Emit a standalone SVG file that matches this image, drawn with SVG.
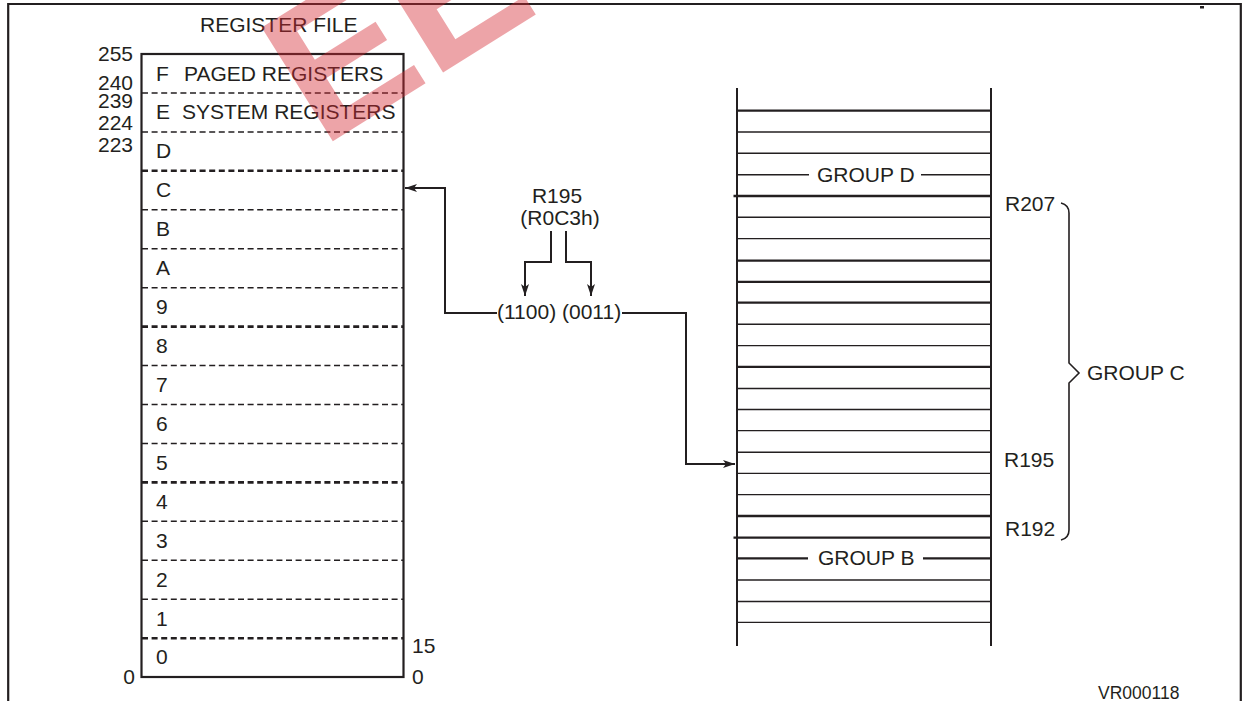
<svg xmlns="http://www.w3.org/2000/svg" width="1243" height="701" viewBox="0 0 1243 701">
<defs>
<style>
text{font-family:"Liberation Sans",Arial,sans-serif;font-size:21px;fill:#231f20}
.ln{stroke:#231f20;fill:none}
.frame{stroke:#231f20;stroke-width:2.2;fill:none}
.dash{stroke:#231f20;stroke-width:1.5;stroke-dasharray:6 3.6;fill:none}
.dashb{stroke:#231f20;stroke-width:2.6;stroke-dasharray:6 3.6;fill:none}
.reg{stroke:#231f20;stroke-width:1.4}
.regb{stroke:#231f20;stroke-width:2.3}
.con{stroke:#231f20;stroke-width:2;fill:none}
.wm{font-family:"Liberation Sans",Arial,sans-serif;font-weight:bold;font-size:195px;fill:#d62832;opacity:0.42}
</style>
<marker id="ah" viewBox="0 0 12 8" refX="12" refY="4" markerWidth="12" markerHeight="8" markerUnits="userSpaceOnUse" orient="auto">
<path d="M0,0 L12,4 L0,8 L3,4 z" fill="#231f20"/>
</marker>
</defs>
<rect width="1243" height="701" fill="#ffffff"/>

<g id="frame">
<path class="frame" d="M8.2,701 V4 H1240.8 V701"/>
<rect x="1200" y="6" width="4" height="2.5" fill="#231f20"/>
</g>

<g id="register-file">
<text x="200" y="32">REGISTER FILE</text>
<rect x="141.5" y="54" width="262" height="623" class="ln" stroke-width="2.2"/>
<line class="dash" x1="142" y1="92.9" x2="403" y2="92.9"/>
<line class="dash" x1="142" y1="131.9" x2="403" y2="131.9"/>
<line class="dashb" x1="142" y1="170.8" x2="403" y2="170.8"/>
<line class="dash" x1="142" y1="209.8" x2="403" y2="209.8"/>
<line class="dash" x1="142" y1="248.7" x2="403" y2="248.7"/>
<line class="dash" x1="142" y1="287.7" x2="403" y2="287.7"/>
<line class="dashb" x1="142" y1="326.6" x2="403" y2="326.6"/>
<line class="dash" x1="142" y1="365.6" x2="403" y2="365.6"/>
<line class="dash" x1="142" y1="404.5" x2="403" y2="404.5"/>
<line class="dash" x1="142" y1="443.4" x2="403" y2="443.4"/>
<line class="dashb" x1="142" y1="482.4" x2="403" y2="482.4"/>
<line class="dash" x1="142" y1="521.3" x2="403" y2="521.3"/>
<line class="dash" x1="142" y1="560.3" x2="403" y2="560.3"/>
<line class="dash" x1="142" y1="599.2" x2="403" y2="599.2"/>
<line class="dashb" x1="142" y1="638.2" x2="403" y2="638.2"/>
<text x="156" y="80.5">F</text>
<text x="184" y="80.5">PAGED REGISTERS</text>
<text x="156" y="119">E</text>
<text x="182" y="119">SYSTEM REGISTERS</text>
<text x="156" y="158">D</text>
<text x="156" y="197">C</text>
<text x="156" y="236">B</text>
<text x="156" y="275">A</text>
<text x="156" y="314">9</text>
<text x="156" y="353">8</text>
<text x="156" y="391.5">7</text>
<text x="156" y="430.5">6</text>
<text x="156" y="469.5">5</text>
<text x="156" y="508.5">4</text>
<text x="156" y="547.5">3</text>
<text x="156" y="586.5">2</text>
<text x="156" y="625.5">1</text>
<text x="156" y="664">0</text>
<text x="133" y="61" text-anchor="end">255</text>
<text x="133" y="89.5" text-anchor="end">240</text>
<text x="133" y="108" text-anchor="end">239</text>
<text x="133" y="129.5" text-anchor="end">224</text>
<text x="133" y="151.5" text-anchor="end">223</text>
<text x="135" y="684" text-anchor="end">0</text>
<text x="412" y="653">15</text>
<text x="412" y="684">0</text>
</g>

<g id="address">
<text x="557" y="203" text-anchor="middle">R195</text>
<text x="560" y="225" text-anchor="middle">(R0C3h)</text>
<text x="497" y="319">(1100) (0011)</text>
</g>

<g id="register-group">
<line class="ln" stroke-width="2" x1="737" y1="88" x2="737" y2="646"/>
<line class="ln" stroke-width="2" x1="991" y1="88" x2="991" y2="646"/>
<line class="regb" x1="737" y1="110.7" x2="991" y2="110.7"/>
<line class="reg" x1="737" y1="132" x2="991" y2="132"/>
<line class="reg" x1="737" y1="153.3" x2="991" y2="153.3"/>
<line class="reg" x1="737" y1="174.7" x2="809" y2="174.7"/>
<line class="reg" x1="921" y1="174.7" x2="991" y2="174.7"/>
<text x="817" y="181.7">GROUP D</text>
<line class="regb" x1="733.5" y1="196" x2="991" y2="196"/>
<line class="reg" x1="737" y1="217.3" x2="991" y2="217.3"/>
<line class="reg" x1="737" y1="238.6" x2="991" y2="238.6"/>
<line class="regb" x1="737" y1="260.7" x2="991" y2="260.7"/>
<line class="regb" x1="737" y1="281.8" x2="991" y2="281.8"/>
<line class="regb" x1="737" y1="302.7" x2="991" y2="302.7"/>
<line class="reg" x1="737" y1="324.3" x2="991" y2="324.3"/>
<line class="reg" x1="737" y1="345.6" x2="991" y2="345.6"/>
<line class="regb" x1="737" y1="366.8" x2="991" y2="366.8"/>
<line class="reg" x1="737" y1="388.5" x2="991" y2="388.5"/>
<line class="reg" x1="737" y1="409.5" x2="991" y2="409.5"/>
<line class="reg" x1="737" y1="430.6" x2="991" y2="430.6"/>
<line class="reg" x1="737" y1="452.2" x2="991" y2="452.2"/>
<line class="reg" x1="737" y1="473.4" x2="991" y2="473.4"/>
<line class="reg" x1="737" y1="494.6" x2="991" y2="494.6"/>
<line class="regb" x1="737" y1="516" x2="991" y2="516"/>
<line class="regb" x1="733.5" y1="537.7" x2="991" y2="537.7"/>
<line class="regb" x1="737" y1="558.3" x2="808" y2="558.3"/>
<line class="regb" x1="923" y1="558.3" x2="991" y2="558.3"/>
<text x="818" y="565.3">GROUP B</text>
<line class="reg" x1="737" y1="580" x2="991" y2="580"/>
<line class="reg" x1="737" y1="601.5" x2="991" y2="601.5"/>
<line class="reg" x1="737" y1="622.4" x2="991" y2="622.4"/>
</g>

<g id="group-c">
<path class="ln" stroke-width="1.6" d="M1061,203 Q1069,205 1069,213 V363 L1079,373 L1069,383 V530 Q1069,538 1061,540"/>
<text x="1005" y="211">R207</text>
<text x="1004" y="467">R195</text>
<text x="1005" y="536">R192</text>
<text x="1087" y="380">GROUP C</text>
</g>

<g id="connectors">
<path class="con" d="M497,313 H445 V188 H405" marker-end="url(#ah)"/>
<path class="con" d="M551,231 V262 H525 V296" marker-end="url(#ah)"/>
<path class="con" d="M566,231 V262 H591 V296" marker-end="url(#ah)"/>
<path class="con" d="M622,313 H686 V464 H735" marker-end="url(#ah)"/>
</g>

<text x="1098" y="699" style="font-size:17.5px">VR000118</text>

<g id="watermark">
<text class="wm" transform="translate(332,142) rotate(-32)" x="-12" y="0">EE</text>
</g>
</svg>
